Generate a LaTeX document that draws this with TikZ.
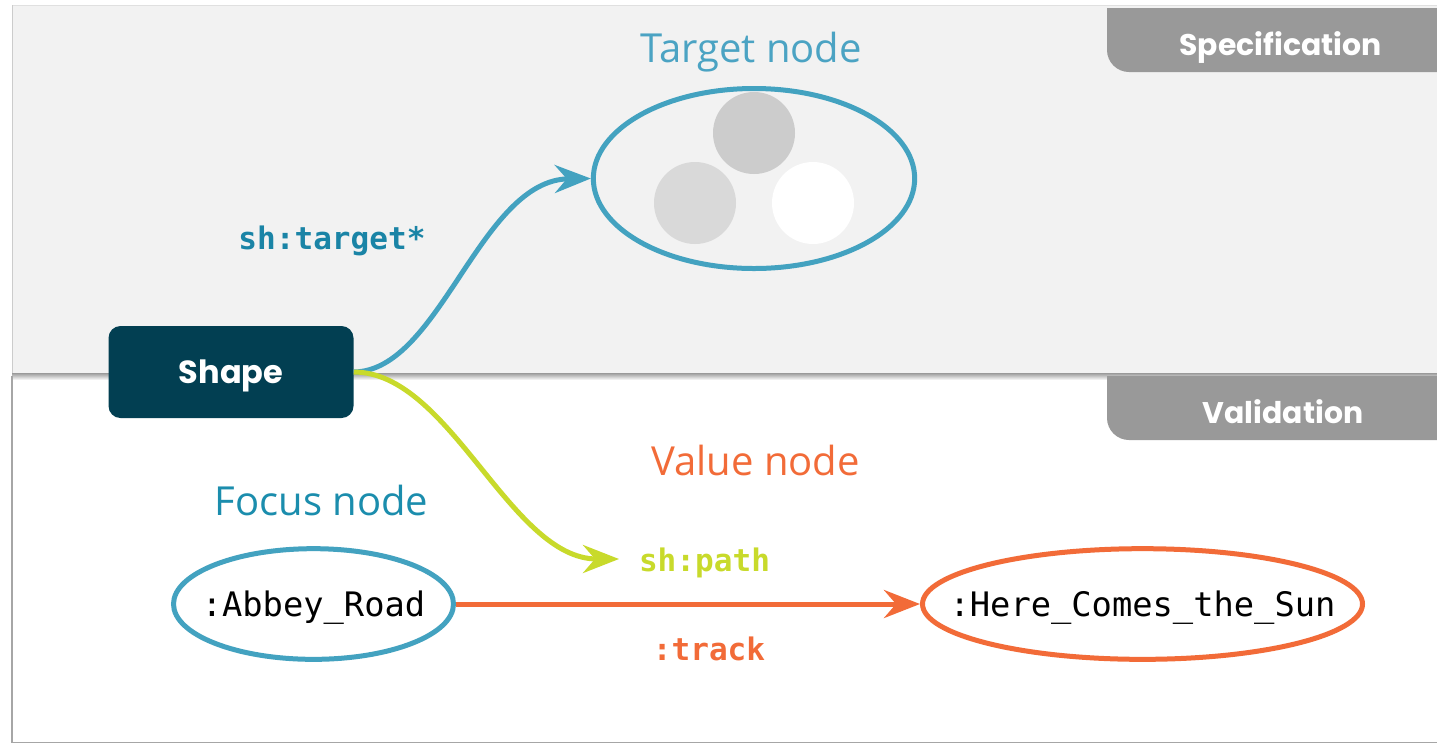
\documentclass[tikz,border=0pt]{standalone}
\usepackage{fontspec}
\usetikzlibrary{arrows.meta,shapes.geometric}
\newfontfamily\labfont{Open Sans}
\newfontfamily\tabfont{Poppins}
\newfontfamily\codefont{DejaVu Sans Mono}
\definecolor{panel}{HTML}{F2F2F2}
\definecolor{tabgray}{HTML}{999999}
\definecolor{shapebg}{HTML}{023F52}
\definecolor{cblue}{HTML}{43A2C0}
\definecolor{tblue}{HTML}{4BA3C3}
\definecolor{fblue}{HTML}{1B8DAD}
\definecolor{cdblue}{HTML}{1A84A6}
\definecolor{cyel}{HTML}{C8DA2B}
\definecolor{corange}{HTML}{F26B38}
\definecolor{frame}{HTML}{A6A6A6}
\definecolor{circA}{HTML}{CCCCCC}
\definecolor{circB}{HTML}{D9D9D9}
\tikzset{
  ell/.style={ellipse, draw, line width=3.75pt, inner sep=0pt, text height=18.4pt, text depth=0pt},
  conn/.style={line width=3.75pt, -{Stealth[length=27pt,width=21pt,inset=9pt]}},
  codelab/.style={font=\codefont\bfseries\fontsize{23.3}{28}\selectfont, inner sep=0pt, anchor=base},
  codetext/.style={font=\codefont\fontsize{25.3}{30}\selectfont, text=black},
  biglab/.style={font=\labfont\fontsize{30}{36}\selectfont, inner sep=0pt, anchor=base},
  tabtext/.style={font=\tabfont\bfseries\fontsize{22.4}{27}\selectfont, text=white, inner sep=0pt, anchor=base},
}
\begin{document}
\begin{tikzpicture}[x=0.75pt,y=-0.75pt]
\useasboundingbox (0,0) rectangle (1437,744);
\fill[white] (0,0) rectangle (1437,744);
% top panel with shadow
\shade[top color=black!45, bottom color=white] (12,372) rectangle (1437,380);
\fill[panel] (12,5) rectangle (1437,373);
\draw[black!12, line width=0.75pt] (12,5) -- (1437,5);
\draw[black!20, line width=0.75pt] (12,5) -- (12,373);
% frame of lower area
\draw[frame, line width=1.2pt] (12,376) -- (12,742.5) -- (1437,742.5);
% tabs
\fill[tabgray] (1107,8) -- (1107,50) .. controls (1107,62.1) and (1116.9,72) .. (1129,72) -- (1437,72) -- (1437,8) -- cycle;
\fill[tabgray] (1107,376) -- (1107,418) .. controls (1107,430.1) and (1116.9,440) .. (1129,440) -- (1437,440) -- (1437,376) -- cycle;
\node[tabtext] (spec) at (1280.5,55) {Specification};
\node[tabtext] (valid) at (1283,423.3) {Validation};
% target node
\node[ell, draw=cblue, minimum width=241pt, minimum height=135pt] (target) at (754,178.5) {};
\fill[circA] (754,133) circle[radius=41];
\fill[circB] (695,203) circle[radius=41];
\fill[white] (813,203) circle[radius=41];
\node[biglab, text=tblue] (targetlab) at (751,62.7) {Target node};
% shape box
\node[fill=shapebg, rounded corners=9pt, minimum width=183.75pt, minimum height=69pt,
      text height=16.8pt, text depth=0pt,
      font=\tabfont\bfseries\fontsize{24}{29}\selectfont, text=white] (shape) at (231,372) {Shape};
% labels
\node[codelab, text=cdblue] (tlab) at (332,249.3) {sh:target*};
\node[biglab, text=fblue] (focuslab) at (321.5,515) {Focus node};
\node[biglab, text=corange] (valuelab) at (755.5,475) {Value node};
\node[codelab, text=cyel] (plab) at (704.5,571) {sh:path};
\node[codelab, text=corange] (trlab) at (709,660) {:track};
% focus / value nodes
\node[ell, draw=cblue, minimum width=210pt, minimum height=83pt, codetext] (abbey) at (313.5,604) {\makebox[0pt]{:Abbey\_Road}};
\node[ell, draw=corange, minimum width=330pt, minimum height=83pt, codetext] (sun) at (1142.5,604) {\makebox[0pt]{:Here\_Comes\_the\_Sun}};
\coordinate (pathend) at (619,559);
% connectors
\draw[conn, cblue] (shape.east) .. controls (440,371) and (480,180) .. (target.west);
\draw[conn, cyel] (shape.east) .. controls (450,372) and (510,559) .. (pathend);
\draw[conn, corange] (abbey.east) -- (sun.west);
\end{tikzpicture}
\end{document}
